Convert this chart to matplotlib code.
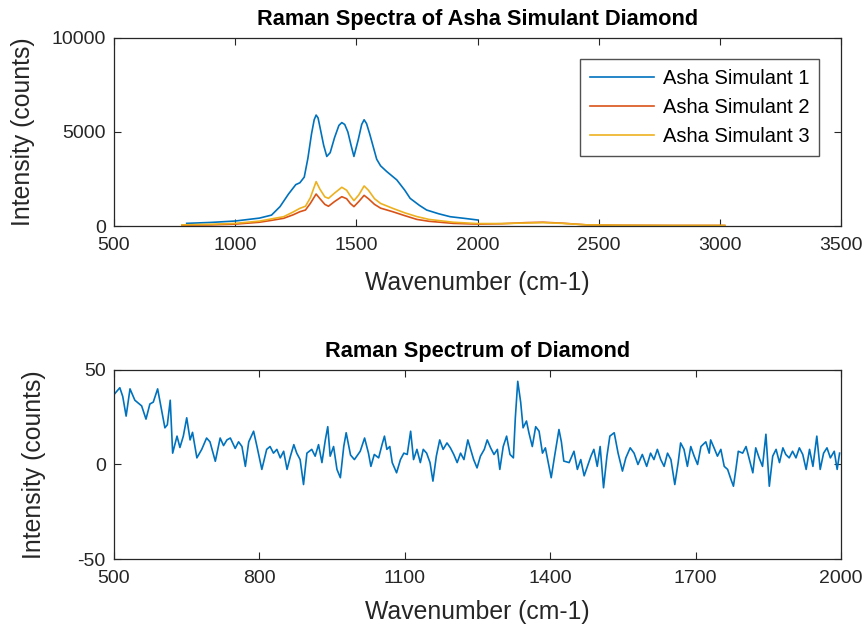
import matplotlib
matplotlib.use("Agg")
import matplotlib.pyplot as plt

plt.rcParams['font.family'] = ['Liberation Sans', 'DejaVu Sans']
plt.rcParams['axes.unicode_minus'] = False

# ---------------- Top chart data ----------------
wn_sim1 = [800, 900, 1000, 1100, 1150, 1185, 1220, 1250, 1267, 1285, 1300, 1315, 1326, 1334,
           1342, 1350, 1365, 1378, 1392, 1410, 1428, 1440, 1452, 1465, 1478, 1490, 1508, 1522,
           1532, 1542, 1555, 1570, 1584, 1600, 1625, 1667, 1700, 1722, 1760, 1790, 1840, 1887,
           1950, 2000]
int_sim1 = [140, 190, 265, 420, 580, 1030, 1700, 2200, 2300, 2600, 3600, 4900, 5650, 5900,
            5750, 5250, 4300, 3700, 3900, 4700, 5350, 5500, 5400, 5000, 4300, 3700, 4600, 5400,
            5650, 5450, 4900, 4200, 3550, 3200, 2900, 2450, 1900, 1470, 1100, 850, 650, 495,
            400, 320]

wn_sim23 = [780, 900, 1000, 1100, 1150, 1200, 1240, 1267, 1290, 1310, 1334, 1350, 1370,
            1385, 1410, 1440, 1460, 1475, 1490, 1510, 1532, 1550, 1575, 1600, 1650, 1700,
            1750, 1800, 1900, 2000, 2100, 2200, 2270, 2350, 2450, 2600, 2800, 3020]
int_sim2 = [40, 60, 100, 200, 300, 410, 600, 760, 850, 1200, 1700, 1450, 1150,
            1050, 1300, 1560, 1450, 1200, 1030, 1300, 1630, 1450, 1150, 950, 760, 550,
            350, 250, 140, 100, 120, 180, 200, 150, 60, 40, 30, 30]
int_sim3 = [60, 90, 140, 260, 380, 495, 750, 940, 1050, 1500, 2360, 1950, 1550,
            1470, 1750, 2060, 1900, 1600, 1350, 1650, 2130, 1900, 1450, 1200, 940, 700,
            500, 350, 200, 130, 130, 160, 180, 140, 60, 40, 30, 30]

series_labels = ['Asha Simulant 1', 'Asha Simulant 2', 'Asha Simulant 3']
top_xticks = [500, 1000, 1500, 2000, 2500, 3000, 3500]
top_yticks = [0, 5000, 10000]

# ---------------- Bottom chart data ----------------
wn_diamond = [500, 506, 512, 518, 525, 533, 543, 557, 566, 574, 581, 590, 598, 605, 610,
              616, 621, 630, 636, 643, 650, 657, 662, 671, 681, 691, 698, 709, 719, 726,
              733, 740, 750, 757, 764, 771, 778, 788, 795, 805, 815, 822, 829, 836, 843,
              850, 857, 864, 871, 877, 884, 891, 898, 908, 915, 922, 929, 936, 941, 946,
              953, 960, 967, 974, 979, 988, 996, 1008, 1017, 1025, 1030, 1037, 1046, 1053,
              1058, 1063, 1069, 1074, 1083, 1091, 1098, 1105, 1112, 1118, 1125, 1132, 1138,
              1145, 1152, 1158, 1165, 1172, 1179, 1187, 1194, 1201, 1208, 1215, 1222, 1230,
              1242, 1249, 1256, 1264, 1270, 1277, 1284, 1291, 1296, 1303, 1310, 1317, 1324,
              1328, 1333, 1339, 1344, 1351, 1356, 1363, 1370, 1377, 1384, 1390, 1396, 1402,
              1409, 1418, 1423, 1428, 1439, 1449, 1456, 1463, 1470, 1484, 1490, 1497, 1503,
              1510, 1517, 1523, 1532, 1540, 1549, 1556, 1565, 1573, 1581, 1590, 1599, 1607,
              1614, 1621, 1628, 1635, 1642, 1649, 1657, 1664, 1669, 1676, 1683, 1690, 1697,
              1704, 1711, 1721, 1728, 1731, 1738, 1745, 1752, 1759, 1766, 1773, 1778, 1783,
              1788, 1797, 1804, 1811, 1818, 1824, 1831, 1838, 1845, 1852, 1859, 1866, 1873,
              1880, 1886, 1893, 1900, 1907, 1914, 1921, 1928, 1935, 1942, 1950, 1957, 1964,
              1971, 1978, 1986, 1992, 1997]
int_diamond = [37, 38.8, 40.6, 36, 25.6, 40, 34, 31, 24, 32, 33, 40, 29, 19.4, 21,
               34, 6, 15, 9, 15, 24.7, 13, 17, 3.5, 8, 14, 12, 1.7, 14, 10,
               13, 14, 8.5, 12, 9.5, -1, 12, 17.6, 9.5, -2.6, 8, 9.5, 6, 8, 3.5,
               7, -2.6, 4.4, 10.5, 6, 2.6, -10.6, 6, 8, 4.4, 10.5, 1, 13, 20, 4.4,
               9.5, -2.6, -7, 9.5, 16.8, 5, 2.6, 7, 14, 6, -1, 5.3, 3.5, 10.5,
               15, 8, 9.5, 1, -4.4, 2.6, 6, 5.3, 17.6, 2.6, 8, 1, 8,
               6, 1, -8.8, 4.4, 13, 8, 11.4, 8.8, 5.3, 1, 6, 2.6, 13,
               2.6, -1.8, 4.4, 8, 13, 8.8, 5.3, 8, -2.6, 9.5, 15, 5.3, 3.5,
               24.7, 44, 33, 19.4, 23, 16.8, 9.5, 20, 17.6, 6, 8.8, 1, -7,
               4.4, 18.5, 12, 1.8, 1, 7, -2.6, 2.6, -6, 4.4, 8, -1, 9.5,
               -12.3, 4.4, 15, 16.8, 6, -3.5, 3.5, 8.8, 6, 0, 5.3, -1, 6,
               2.6, 8, 2.6, -1, 6, 2.6, -10.6, 1, 11.4, 8, -1, 9.5, 4.4,
               0, 9.5, 12, 6, 13, 8.8, 4.4, 8, -1, -2.6, -8, -11.5, -2.6,
               7, 6, 9.5, 2.6, -4.4, 8.8, 3.5, -1, 16, -11.5, 4.4, 8, 1,
               8.8, 5.3, 3.5, 7, 3.5, 8.8, 5.3, -2.6, 8, -1, 15, -2.6, 6,
               8.8, 3.5, 7, -2.6, 6]
bottom_xticks = [500, 800, 1100, 1400, 1700, 2000]
bottom_yticks = [-50, 0, 50]

colors = ['#0072BD', '#D95319', '#EDB120']
axis_color = '#262626'

fig = plt.figure(figsize=(8.65, 6.32), dpi=100)
ax1 = fig.add_axes([0.1318, 0.6424, 0.8405, 0.2975])
ax2 = fig.add_axes([0.1318, 0.1155, 0.8405, 0.2991])

ax1.plot(wn_sim1, int_sim1, color=colors[0], lw=1.2, label=series_labels[0])
ax1.plot(wn_sim23, int_sim2, color=colors[1], lw=1.2, label=series_labels[1])
ax1.plot(wn_sim23, int_sim3, color=colors[2], lw=1.2, label=series_labels[2])
ax1.set_xlim(500, 3500)
ax1.set_ylim(0, 10000)
ax1.set_xticks(top_xticks)
ax1.set_yticks(top_yticks)
ax1.set_title('Raman Spectra of Asha Simulant Diamond', fontsize=15.7, fontweight='bold', pad=9)
ax1.set_xlabel('Wavenumber (cm-1)', fontsize=17.8, labelpad=12)
ax1.set_ylabel('Intensity (counts)', fontsize=17.8)
ax1.yaxis.set_label_coords(-0.108, 0.5)
leg = ax1.legend(loc='upper right', bbox_to_anchor=(0.970, 0.888), fontsize=14.5, frameon=True,
                 fancybox=False, edgecolor=axis_color, handlelength=3.2, labelspacing=0.5,
                 borderpad=0.5, handletextpad=0.4, borderaxespad=0)
leg.get_frame().set_linewidth(1.0)

ax2.plot(wn_diamond, int_diamond, color=colors[0], lw=1.2)
ax2.set_xlim(500, 2000)
ax2.set_ylim(-50, 50)
ax2.set_xticks(bottom_xticks)
ax2.set_yticks(bottom_yticks)
ax2.set_title('Raman Spectrum of Diamond', fontsize=15.7, fontweight='bold', pad=9)
ax2.set_xlabel('Wavenumber (cm-1)', fontsize=17.8, labelpad=9)
ax2.set_ylabel('Intensity (counts)', fontsize=17.8)
ax2.yaxis.set_label_coords(-0.093, 0.5)

for ax in (ax1, ax2):
    ax.tick_params(direction='in', top=True, right=True, length=5, width=0.8,
                   labelsize=14, colors=axis_color)
    ax.tick_params(axis='x', pad=8)
    ax.tick_params(axis='y', pad=6)
    for sp in ax.spines.values():
        sp.set_color(axis_color)
        sp.set_linewidth(0.9)
    ax.xaxis.label.set_color(axis_color)
    ax.yaxis.label.set_color(axis_color)

fig.savefig('out.png', dpi=100)
